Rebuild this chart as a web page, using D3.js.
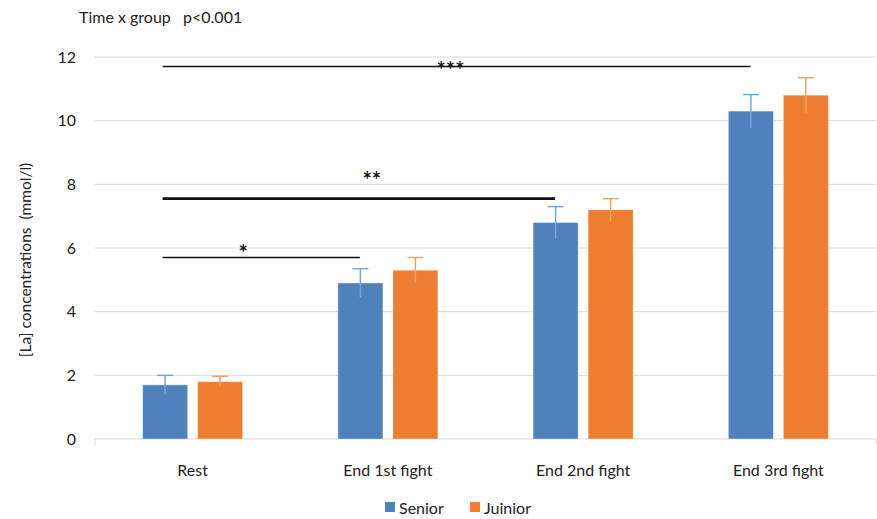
<!DOCTYPE html>
<html><head><meta charset="utf-8">
<script src="https://cdn.jsdelivr.net/npm/d3@7"></script>
<style>body{margin:0;background:#fff}svg{display:block}text{font-family:Lato,"Open Sans",sans-serif}</style>
</head><body>
<svg id="c" width="877" height="519"></svg>
<script>
const categories = ["Rest","End 1st fight","End 2nd fight","End 3rd fight"];
const seriesNames = ["Senior","Juinior"];
const seniorValues = [1.7, 4.9, 6.8, 10.3];
const seniorErrors = [0.3, 0.45, 0.5, 0.52];
const juiniorValues = [1.8, 5.3, 7.2, 10.8];
const juiniorErrors = [0.17, 0.4, 0.35, 0.55];
const yTicks = [0,2,4,6,8,10,12];
const sigBrackets = [
  {from:"Rest", to:"End 1st fight", level:5.7, label:"*"},
  {from:"Rest", to:"End 2nd fight", level:7.55, label:"**"},
  {from:"Rest", to:"End 3rd fight", level:11.7, label:"***"}
];
const titleText = "Time x group   p<0.001";

const colors = ["#4F81BD","#ED7D31"];
const errColors = ["#6FA8DC","#F4A060"];
const svg = d3.select("#c");
const x0 = d3.scaleBand().domain(categories).range([95,876]).paddingInner(0).paddingOuter(0);
const y = d3.scaleLinear().domain([0,12]).range([439,57]);

svg.append("g").selectAll("line").data(yTicks.filter(d=>d>0)).join("line")
  .attr("x1",95).attr("x2",876).attr("y1",d=>y(d)).attr("y2",d=>y(d))
  .attr("stroke","#d9d9d9").attr("stroke-width",1);

svg.append("g").selectAll("text").data(yTicks).join("text")
  .attr("x",76).attr("y",d=>y(d)+5.5).attr("text-anchor","end")
  .attr("font-size",16).attr("fill","#222").text(d=>d);

svg.append("line").attr("x1",95).attr("x2",876).attr("y1",439).attr("y2",439)
  .attr("stroke","#d9d9d9").attr("stroke-width",1.2);
[95,876].forEach(xx=>svg.append("line").attr("x1",xx).attr("x2",xx).attr("y1",439).attr("y2",445).attr("stroke","#d9d9d9"));

const barW = 45, gap = 10;
const data = [
  {vals:seniorValues, errs:seniorErrors},
  {vals:juiniorValues, errs:juiniorErrors}
];
data.forEach((s,si)=>{
  const g = svg.append("g");
  const xs = c => x0(c)+x0.bandwidth()/2 + (si===0 ? -gap/2-barW : gap/2);
  g.selectAll("rect").data(categories).join("rect")
    .attr("x",c=>xs(c)).attr("width",barW)
    .attr("y",(c,i)=>y(s.vals[i])).attr("height",(c,i)=>y(0)-y(s.vals[i]))
    .attr("fill",colors[si]).attr("stroke","#fff").attr("stroke-opacity",0.35).attr("stroke-width",1);
  g.selectAll("line.e").data(categories).join("line").attr("class","e")
    .attr("x1",c=>xs(c)+barW/2).attr("x2",c=>xs(c)+barW/2)
    .attr("y1",(c,i)=>y(s.vals[i]-s.errs[i])).attr("y2",(c,i)=>y(s.vals[i]+s.errs[i]))
    .attr("stroke",errColors[si]).attr("stroke-width",1.5);
  g.selectAll("line.c").data(categories).join("line").attr("class","c")
    .attr("x1",c=>xs(c)+barW/2-8).attr("x2",c=>xs(c)+barW/2+8)
    .attr("y1",(c,i)=>y(s.vals[i]+s.errs[i])).attr("y2",(c,i)=>y(s.vals[i]+s.errs[i]))
    .attr("stroke",errColors[si]).attr("stroke-width",1.5);
});

svg.append("g").selectAll("text").data(categories).join("text")
  .attr("x",c=>x0(c)+x0.bandwidth()/2).attr("y",476).attr("text-anchor","middle")
  .attr("font-size",16).attr("fill","#222").text(c=>c);

// significance brackets
const bracketStyle = {
  "*":   {w:1.5, dx:-18, dy:-12},
  "**":  {w:2.6, dx:13,  dy:-26},
  "***": {w:1.5, dx:-6,  dy:-4}
};
sigBrackets.forEach(b=>{
  const st = bracketStyle[b.label];
  const xa = x0(b.from)+x0.bandwidth()/2-30;
  const xb = x0(b.to)+x0.bandwidth()/2-28;
  svg.append("line").attr("x1",xa).attr("x2",xb).attr("y1",y(b.level)).attr("y2",y(b.level))
    .attr("stroke","#111").attr("stroke-width",st.w);
  svg.append("text").attr("x",(xa+xb)/2+st.dx).attr("y",y(b.level)+st.dy)
    .attr("text-anchor","middle").attr("dominant-baseline","central")
    .attr("font-size",22).attr("font-weight","bold")
    .attr("fill","#111").append("tspan").attr("dy","0.3em").text(b.label);
});

svg.append("text").attr("x",79).attr("y",23).attr("font-size",16).attr("fill","#222")
  .style("white-space","pre").text(titleText);

svg.append("text").attr("transform","translate(31,260) rotate(-90)").attr("text-anchor","middle")
  .attr("font-size",15.5).attr("fill","#222").style("white-space","pre").text("[La] concentrations  (mmol/l)");

const leg = svg.append("g");
const legX = [385, 470];
seriesNames.forEach((n,i)=>{
  leg.append("rect").attr("x",legX[i]).attr("y",502).attr("width",10).attr("height",10).attr("fill",colors[i]);
  leg.append("text").attr("x",legX[i]+14).attr("y",513.5).attr("font-size",16).attr("fill","#222").text(n);
});
</script>
</body></html>
